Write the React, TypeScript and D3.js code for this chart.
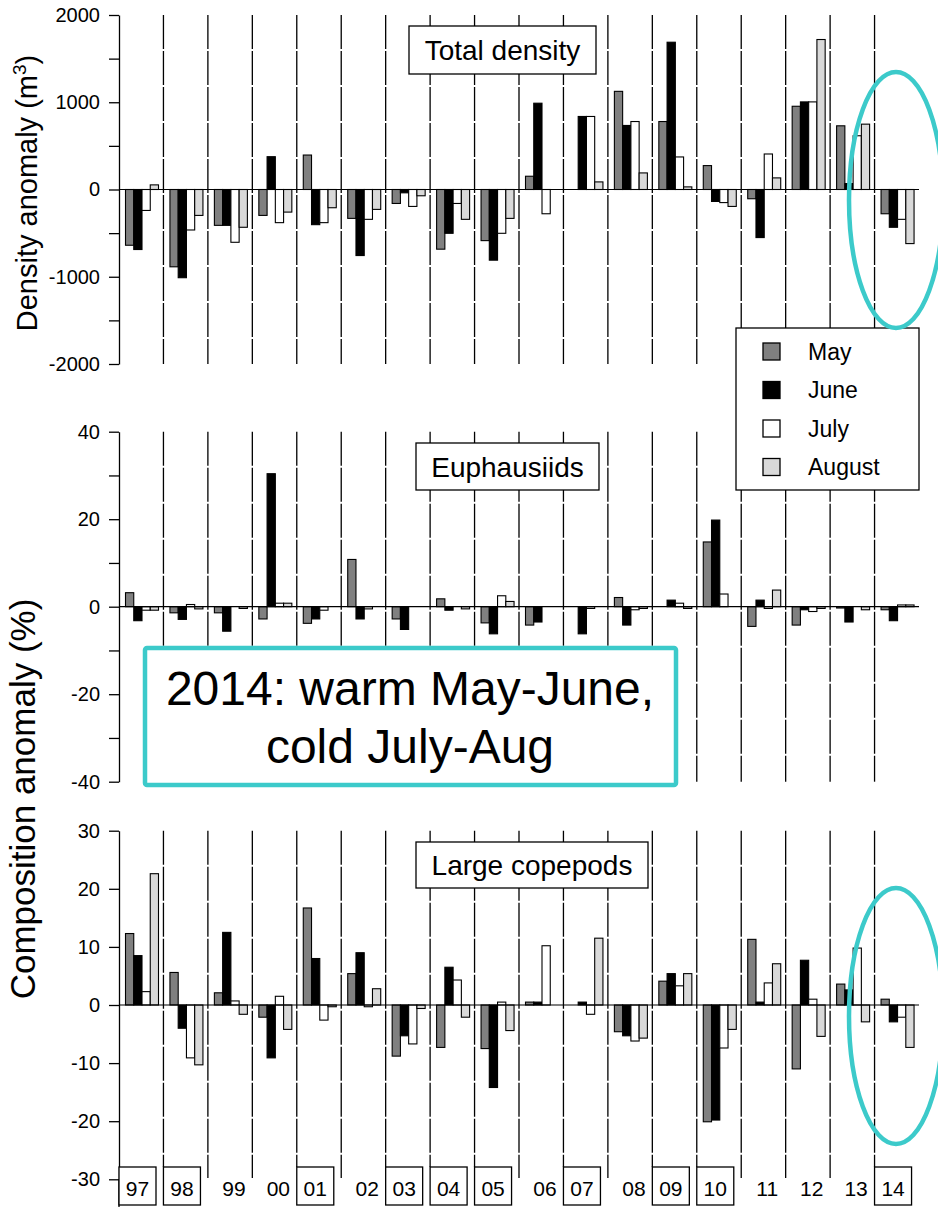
import React, { useEffect, useRef } from 'react';
import * as d3 from 'd3';

const years = ['97', '98', '99', '00', '01', '02', '03', '04', '05', '06', '07', '08', '09', '10', '11', '12', '13', '14'];
const months = ['May', 'June', 'July', 'August'];
const boxedYears = ['97', '98', '01', '03', '04', '05', '07', '09', '10', '14'];

// Total density anomaly (m3)
const densityMay = [-639, -886, -411, -297, 395, -331, -160, -684, -586, 152, null, 1125, 779, 274, -106, 954, 730, -278];
const densityJune = [-688, -1011, -411, 376, -403, -757, -38, -502, -810, 989, 837, 734, 1688, -137, -551, 1004, 68, -433];
const densityJuly = [-240, -464, -605, -380, -380, -342, -194, -160, -502, -278, 837, 779, 373, -150, 407, 1004, 616, -342];
const densityAug = [53, -297, -433, -259, -209, -228, -72, -342, -331, null, 87, 190, 30, -194, 133, 1719, 749, -620];

// Euphausiids composition anomaly (%)
const euphMay = [3.2, -1.4, -1.4, -2.8, -3.8, 10.8, -2.8, 1.8, -3.7, -4.2, null, 2.1, null, 14.8, -4.5, -4.2, -0.3, -0.7];
const euphJune = [-3.2, -2.9, -5.6, 30.4, -2.8, -2.8, -5.2, -0.8, -6.2, -3.5, -6.2, -4.2, 1.5, 19.8, 1.5, -0.7, -3.5, -3.2];
const euphJuly = [-0.8, 0.5, null, 0.8, -0.8, -0.5, null, null, 2.5, null, -0.4, -0.7, 0.8, 2.9, -0.4, -1.1, null, 0.4];
const euphAug = [-0.8, -0.5, -0.4, 0.8, null, null, null, -0.5, 1.2, null, null, -0.4, -0.4, null, 3.8, -0.4, -0.7, 0.4];

// Large copepods composition anomaly (%)
const copeMay = [12.3, 5.6, 2.1, -2.1, 16.7, 5.4, -8.8, -7.3, -7.5, 0.5, null, -4.6, 4.1, -20.1, 11.3, -11.0, 3.6, 1.0];
const copeJune = [8.5, -4.0, 12.5, -9.1, 8.0, 9.0, -5.3, 6.5, -14.2, 0.5, 0.5, -5.3, 5.4, -19.8, 0.5, 7.7, 2.6, -2.9];
const copeJuly = [2.3, -9.1, 0.7, 1.5, -2.6, -0.3, -6.7, 4.3, 0.5, 10.2, -1.6, -6.2, 3.3, -7.4, 3.8, 1.0, 9.8, -2.1];
const copeAug = [22.6, -10.3, -1.6, -4.2, -0.3, 2.8, -0.6, -2.1, -4.4, null, 11.5, -5.7, 5.4, -4.2, 7.1, -5.4, -2.9, -7.3];

const monthFill: Record<string, string> = { May: '#808080', June: '#000000', July: '#ffffff', August: '#d9d9d9' };
const cyan = '#3ccaca';
const font = '"Liberation Sans", Arial, sans-serif';

const App: React.FC = () => {
  const svgRef = useRef<SVGSVGElement | null>(null);

  useEffect(() => {
    drawChart();
  }, []);

  const drawChart = () => {
    const svg = d3.select(svgRef.current);
    svg.selectAll('*').remove();

    const left = 119;
    const right = 919;
    const x = d3.scaleBand<string>().domain(years).range([left, right]);
    const xm = d3.scaleBand<string>().domain(months).range([6.5, 39.5]);

    const panels = [
      { title: 'Total density', domain: [-2000, 2000], range: [364, 15], step: 500, labelStep: 1000, box: [409, 26, 187, 48], data: [densityMay, densityJune, densityJuly, densityAug], last: false },
      { title: 'Euphausiids', domain: [-40, 40], range: [781.7, 431.7], step: 10, labelStep: 20, box: [416, 443, 183, 47], data: [euphMay, euphJune, euphJuly, euphAug], last: false },
      { title: 'Large copepods', domain: [-30, 30], range: [1179.3, 830.7], step: 10, labelStep: 10, box: [416, 842, 232, 46], data: [copeMay, copeJune, copeJuly, copeAug], last: true },
    ];

    panels.forEach((p) => {
      const y = d3.scaleLinear().domain(p.domain).range(p.range);
      const g = svg.append('g');

      // dashed year dividers
      years.slice(1).forEach((yr) => {
        const bottom = p.last ? (boxedYears.includes(yr) ? 1167 : 1178) : p.range[0];
        g.append('line')
          .attr('x1', x(yr)!).attr('x2', x(yr)!)
          .attr('y1', p.range[1]).attr('y2', bottom)
          .attr('stroke', '#000').attr('stroke-width', 1.3)
          .attr('stroke-dasharray', '34,2');
      });

      // bars
      months.forEach((m, mi) => {
        const vals = p.data[mi];
        const rows = years.map((yr, i) => ({ yr, v: vals[i] })).filter((d) => d.v !== null) as { yr: string; v: number }[];
        g.selectAll(null)
          .data(rows)
          .enter()
          .append('rect')
          .attr('x', (d) => x(d.yr)! + xm(m)!)
          .attr('width', xm.bandwidth())
          .attr('y', (d) => y(Math.max(0, d.v)))
          .attr('height', (d) => Math.abs(y(d.v) - y(0)))
          .attr('fill', monthFill[m])
          .attr('stroke', '#000')
          .attr('stroke-width', 1.1);
      });

      // zero line
      g.append('line')
        .attr('x1', left).attr('x2', right)
        .attr('y1', y(0)).attr('y2', y(0))
        .attr('stroke', '#000').attr('stroke-width', 1.2);

      // y axis
      const ticks = d3.range(p.domain[0], p.domain[1] + p.step / 2, p.step);
      const axis = d3.axisLeft(y)
        .tickValues(ticks)
        .tickSize(10)
        .tickSizeOuter(0)
        .tickPadding(9)
        .tickFormat((v) => (Math.abs(+v % p.labelStep) < 1e-9 ? String(v) : ''));
      const ag = g.append('g').attr('transform', `translate(${left},0)`).call(axis);
      ag.selectAll('path, line').attr('stroke', '#000').attr('stroke-width', 1.3);
      ag.selectAll('text').attr('font-family', font).attr('font-size', 20).attr('fill', '#000');

      // panel title box
      const [bx, by, bw, bh] = p.box;
      g.append('rect').attr('x', bx).attr('y', by).attr('width', bw).attr('height', bh)
        .attr('fill', '#fff').attr('stroke', '#000').attr('stroke-width', 1.3);
      g.append('text').attr('x', bx + bw / 2).attr('y', by + bh / 2).attr('dy', '0.36em')
        .attr('text-anchor', 'middle').attr('font-family', font).attr('font-size', 28)
        .text(p.title);
    });

    // axis extension below the last panel
    svg.append('line').attr('x1', left).attr('x2', left).attr('y1', 1179).attr('y2', 1207)
      .attr('stroke', '#000').attr('stroke-width', 1.3);

    // year labels
    years.forEach((yr) => {
      const boxed = boxedYears.includes(yr);
      if (boxed) {
        svg.append('rect').attr('x', x(yr)!).attr('y', 1167).attr('width', 37).attr('height', 38)
          .attr('fill', '#fff').attr('stroke', '#000').attr('stroke-width', 1.3);
      }
      svg.append('text')
        .attr('x', x(yr)! + (boxed ? 18.5 : 26))
        .attr('y', 1196)
        .attr('text-anchor', 'middle')
        .attr('font-family', font)
        .attr('font-size', 21)
        .text(yr);
    });

    // legend
    const lg = svg.append('g');
    lg.append('rect').attr('x', 736).attr('y', 328).attr('width', 183).attr('height', 162)
      .attr('fill', '#fff').attr('stroke', '#000').attr('stroke-width', 1.3);
    months.forEach((m, i) => {
      const cy = 351.5 + i * 38.5;
      lg.append('rect').attr('x', 763).attr('y', cy - 8.5).attr('width', 17).attr('height', 17)
        .attr('fill', monthFill[m]).attr('stroke', '#000').attr('stroke-width', 1.3);
      lg.append('text').attr('x', 808).attr('y', cy).attr('dy', '0.36em')
        .attr('font-family', font).attr('font-size', 23).text(m);
    });

    // y axis titles
    const dens = svg.append('text')
      .attr('transform', 'translate(37,193) rotate(-90)')
      .attr('text-anchor', 'middle').attr('font-family', font).attr('font-size', 29);
    dens.append('tspan').text('Density anomaly (m');
    dens.append('tspan').attr('font-size', 19).attr('dy', -11).text('3');
    dens.append('tspan').attr('dy', 11).text(')');

    svg.append('text')
      .attr('transform', 'translate(35,799) rotate(-90)')
      .attr('text-anchor', 'middle').attr('font-family', font).attr('font-size', 35)
      .text('Composition anomaly (%)');

    // annotation box
    svg.append('rect').attr('x', 145).attr('y', 648).attr('width', 531).attr('height', 137)
      .attr('fill', '#fff').attr('stroke', cyan).attr('stroke-width', 4.5).attr('rx', 2);
    svg.append('text').attr('x', 410).attr('y', 705).attr('text-anchor', 'middle')
      .attr('font-family', font).attr('font-size', 48).text('2014: warm May-June,');
    svg.append('text').attr('x', 410).attr('y', 763).attr('text-anchor', 'middle')
      .attr('font-family', font).attr('font-size', 48).text('cold July-Aug');

    // highlight ellipses around 2014
    [200, 1016].forEach((cy) => {
      svg.append('ellipse').attr('cx', 896).attr('cy', cy).attr('rx', 47).attr('ry', 128)
        .attr('fill', 'none').attr('stroke', cyan).attr('stroke-width', 4.5);
    });
  };

  return (
    <div style={{ position: 'absolute', left: 0, top: 0 }}>
      <svg ref={svgRef} width={938} height={1207} style={{ display: 'block', background: '#fff' }} />
    </div>
  );
};

export default App;
